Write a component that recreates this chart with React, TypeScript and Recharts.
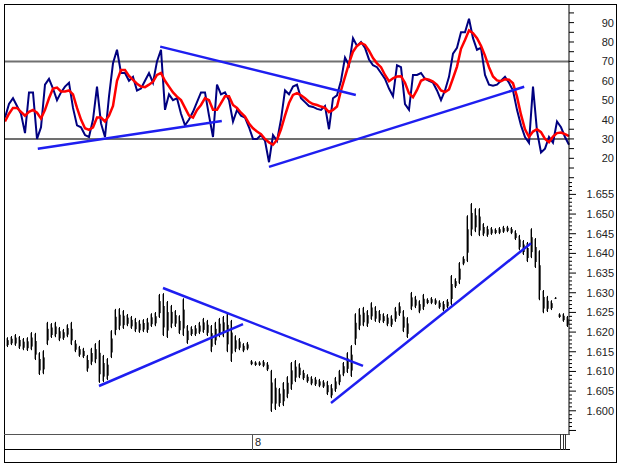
import { ComposedChart, Line, Bar, XAxis, YAxis, ReferenceLine } from 'recharts'

// oscillator (navy) and its smoothed signal (red), one value every bar step
const rsi = [
  41, 48, 51, 47, 43, 33, 54, 54, 30, 36,
  58, 61, 56, 50, 54, 57, 59, 46, 37, 36,
  32, 31, 40, 57, 38, 31, 52, 69, 76, 64,
  64, 60, 62, 55, 56, 60, 64, 59, 70, 76,
  45, 53, 50, 51, 43, 37, 40, 44, 49, 54,
  54, 42, 31, 58, 53, 54, 50, 39, 45, 42,
  41, 36, 30, 30, 32, 29, 18, 32, 29, 40,
  55, 53, 57, 58, 51, 49, 47, 46.5, 45.5, 45,
  47, 35, 51, 52.5, 60, 72, 68, 82, 78, 80,
  77, 71, 68, 67, 64, 61, 56, 52, 68, 67,
  48, 45, 63, 63, 64, 61, 60, 59, 55, 50,
  55, 62, 74, 77, 85, 85, 92, 82, 76, 77,
  63, 58, 57.5, 58, 60, 62, 59, 55, 45, 37,
  31, 28, 57, 34, 23, 25, 31, 28, 39, 36,
  31, 27,
]
const signal = [
  39, 43, 46, 46, 44, 42, 44, 45, 43.5, 40.5,
  45, 51, 56, 56.5, 54.5, 54.5, 55, 53, 46, 40,
  35.5, 34.7, 36, 41, 41, 39, 42, 47, 60, 65.5,
  65.5, 62.5, 60.5, 58.5, 57, 56.7, 58, 59.5, 63, 64,
  60, 57, 54, 51.8, 50, 46, 42, 41, 45, 47.5,
  51, 50, 45, 45, 48.5, 52, 52, 47.5, 46, 43.5,
  41.5, 38, 35.5, 33.8, 32.5, 30, 28.2, 27, 29.5, 35,
  42, 48.5, 52.7, 53.6, 52.5, 51, 49.2, 48, 47.5, 46.7,
  46, 43.8, 45, 46.7, 55, 62, 69, 75, 78, 79.5,
  78.5, 75.5, 71.7, 69, 67, 63, 59.8, 61.3, 62.2, 62.3,
  59, 53.5, 51.5, 55.3, 60, 61, 60.6, 59.6, 57.9, 55,
  54.2, 55.5, 61.3, 67.3, 76.5, 81, 86, 84.5, 82, 78,
  73, 67, 62.2, 60.2, 59.8, 60.8, 60.6, 58.7, 51.8, 42.5,
  35, 31, 33.8, 35, 33.5, 30, 28.3, 31.2, 33, 33.3,
  32.5, 31.5,
]

// price bars
const highs = [
  1.6187, 1.619, 1.6195, 1.619, 1.6185, 1.6187, 1.62, 1.6198, 1.6149, 1.6154,
  1.6226, 1.6223, 1.6226, 1.6213, 1.6208, 1.622, 1.6226, 1.618, 1.6165, 1.616,
  1.6142, 1.616, 1.6172, 1.618, 1.6142, 1.6134, 1.6205, 1.6259, 1.6261, 1.6256,
  1.6246, 1.6241, 1.6236, 1.6231, 1.6233, 1.6236, 1.6248, 1.6251, 1.6297, 1.6299,
  1.6279, 1.6269, 1.6256, 1.6243, 1.6286, 1.6218, 1.6215, 1.6218, 1.6226, 1.6236,
  1.6231, 1.6218, 1.6226, 1.6236, 1.6241, 1.6248, 1.6231, 1.6192, 1.6185, 1.6172,
  1.6175, 1.6129, 1.6126, 1.6126, 1.6129, 1.6124, 1.6104, 1.6083, 1.6058, 1.6073,
  1.6088, 1.6124, 1.6129, 1.6121, 1.6104, 1.6093, 1.6088, 1.6086, 1.6081, 1.6078,
  1.6076, 1.6068, 1.6086, 1.6104, 1.6124, 1.6149, 1.6167, 1.6248, 1.6261, 1.6264,
  1.6256, 1.6276, 1.6266, 1.6256, 1.6248, 1.6246, 1.6243, 1.6264, 1.6276, 1.6256,
  1.6238, 1.6302, 1.6292, 1.6281, 1.6297, 1.6286, 1.6289, 1.6286, 1.6281, 1.6279,
  1.6284, 1.6345, 1.6337, 1.6378, 1.6393, 1.6497, 1.6528, 1.6515, 1.6515, 1.6477,
  1.647, 1.6467, 1.6464, 1.6467, 1.647, 1.647, 1.6467, 1.6459, 1.6447, 1.6434,
  1.6429, 1.6464, 1.6439, 1.6408, 1.6307, 1.6292, 1.6281, 1.6289, 1.6248, 1.6248,
  1.6241,
]
const lows = [
  1.6162, 1.6167, 1.6165, 1.6157, 1.6154, 1.6152, 1.6154, 1.6129, 1.6091, 1.6093,
  1.6167, 1.6185, 1.6187, 1.6177, 1.618, 1.6187, 1.6167, 1.6149, 1.6137, 1.6134,
  1.6099, 1.6116, 1.6121, 1.6071, 1.6073, 1.6078, 1.6134, 1.6192, 1.6205, 1.6208,
  1.6215, 1.6208, 1.62, 1.6198, 1.62, 1.6198, 1.6213, 1.6215, 1.6236, 1.619,
  1.6185, 1.621, 1.6213, 1.6195, 1.619, 1.617, 1.619, 1.619, 1.6195, 1.6198,
  1.619, 1.6149, 1.6167, 1.6187, 1.6187, 1.6149, 1.6124, 1.6149, 1.6154, 1.6149,
  1.6154, 1.6116, 1.6114, 1.6114, 1.6111, 1.6101, 1.5997, 1.6002, 1.601, 1.6012,
  1.6032, 1.6053, 1.6073, 1.6083, 1.6078, 1.6071, 1.6065, 1.6063, 1.606, 1.6058,
  1.604, 1.6032, 1.6048, 1.6065, 1.6088, 1.6096, 1.6086, 1.6167, 1.6205, 1.6215,
  1.6213, 1.6231, 1.6226, 1.6223, 1.6223, 1.6215, 1.6213, 1.6226, 1.6241, 1.62,
  1.6185, 1.6256, 1.6261, 1.6248, 1.6256, 1.6271, 1.6271, 1.6269, 1.6259, 1.6253,
  1.6261, 1.6269, 1.6312, 1.6322, 1.637, 1.6378, 1.6444, 1.6454, 1.6444, 1.6444,
  1.6442, 1.6447, 1.6449, 1.6449, 1.6452, 1.6454, 1.6449, 1.6434, 1.6408, 1.6396,
  1.6378, 1.6388, 1.6363, 1.6281, 1.6248, 1.6251, 1.6256, 1.6284, 1.6236, 1.6226,
  1.6213,
]

// hand-drawn trend lines: [start, end] in (bar, value)
const rsiTrends = [
  [{ x: 8.2, y: 24.9 }, { x: 54.2, y: 39.3 }],
  [{ x: 38.8, y: 77.6 }, { x: 87.7, y: 52.7 }],
  [{ x: 66, y: 15.6 }, { x: 129.8, y: 56.9 }],
]
const priceTrends = [
  [{ x: 23, y: 1.6063 }, { x: 59, y: 1.622 }],
  [{ x: 39, y: 1.6312 }, { x: 89, y: 1.6114 }],
  [{ x: 81, y: 1.602 }, { x: 131, y: 1.6426 }],
]

const rsiLevels = [70, 30]
const rsiTicks = [10, 15, 20, 25, 30, 35, 40, 45, 50, 55, 60, 65, 70, 75, 80, 85, 90, 95]
const rsiLabels = [20, 30, 40, 50, 60, 70, 80, 90]
const priceTicks = Array.from({ length: 64 }, (_, k) => Math.round((1.595 + k * 0.001) * 1000) / 1000)
const dayLabel = '8'

const rsiData = rsi.map((v, i) => ({ i, rsi: v, signal: signal[i] }))
const priceData = highs.map((h, j) => ({ j, range: [lows[j], h] }))

const FONT = '"Liberation Sans", Arial, sans-serif'
const BLUE = '#1e1ef0'

function RsiTick({ x, y, payload }: any) {
  const v = payload.value
  return (
    <g>
      <line x1={x} y1={y} x2={x + 5} y2={y} stroke="#000" />
      {rsiLabels.includes(v) && (
        <text x={x + 45} y={y} dy={4} textAnchor="end" fontSize={11} fontFamily={FONT} fill="#222">{v}</text>
      )}
    </g>
  )
}

function PriceTick({ x, y, payload }: any) {
  const v = payload.value
  const major = Math.round(v * 1000) % 5 === 0
  return (
    <g>
      <line x1={x} y1={y} x2={x + (major ? 7 : 3)} y2={y} stroke="#000" />
      {major && v >= 1.6 && v <= 1.655 && (
        <text x={x + 45} y={y} dy={4} textAnchor="end" fontSize={11} fontFamily={FONT} fill="#222">{v.toFixed(3)}</text>
      )}
    </g>
  )
}

// bar drawn as a dark stem with grey shoulders, like the dense OHLC strokes
function PriceBar({ x, y, width, height }: any) {
  const cx = Math.round(x + width / 2)
  const h = Math.max(height, 1)
  return (
    <g>
      <rect x={cx - 1} y={y + 1} width={1} height={Math.max(h - 2, 1)} fill="#9a9a9a" />
      <rect x={cx} y={y} width={1} height={h} fill="#000" />
      <rect x={cx + 1} y={y + h * 0.3} width={1} height={Math.max(h * 0.5, 1)} fill="#555" />
    </g>
  )
}

export default function App() {
  return (
    <div style={{ position: 'absolute', left: 0, top: 0, width: 620, height: 466, background: '#fff', fontFamily: FONT }}>
      <div style={{ position: 'absolute', left: 4, top: 4, width: 613, height: 459, border: '1px solid #000', boxSizing: 'border-box' }} />

      <div style={{ position: 'absolute', left: 5, top: 4 }}>
        <ComposedChart width={612} height={177} data={rsiData} margin={{ top: 0, right: 0, bottom: 0, left: 0 }}>
          <XAxis type="number" dataKey="i" domain={[0, 141]} hide />
          <YAxis
            orientation="right"
            width={48}
            type="number"
            domain={[8.3, 99.6]}
            allowDataOverflow
            ticks={rsiTicks}
            interval={0}
            tickSize={0}
            tickMargin={0}
            tickLine={false}
            axisLine={{ stroke: '#000' }}
            tick={(p: any) => <RsiTick {...p} />}
          />
          {rsiLevels.map((lv) => (
            <ReferenceLine key={lv} y={lv} stroke="#707070" strokeWidth={2} />
          ))}
          <Line dataKey="rsi" stroke="#000080" strokeWidth={2} dot={false} isAnimationActive={false} />
          <Line dataKey="signal" stroke="#ff0000" strokeWidth={2.5} dot={false} isAnimationActive={false} />
          {rsiTrends.map((seg, k) => (
            <ReferenceLine key={k} segment={seg} stroke={BLUE} strokeWidth={2.5} />
          ))}
        </ComposedChart>
      </div>

      <div style={{ position: 'absolute', left: 5, top: 181 }}>
        <ComposedChart width={612} height={253} data={priceData} margin={{ top: 0, right: 0, bottom: 0, left: 0 }}>
          <XAxis type="category" dataKey="j" hide />
          <YAxis
            orientation="right"
            width={48}
            type="number"
            domain={[1.5941, 1.6584]}
            allowDataOverflow
            ticks={priceTicks}
            interval={0}
            tickSize={0}
            tickMargin={0}
            tickLine={false}
            axisLine={{ stroke: '#000' }}
            tick={(p: any) => <PriceTick {...p} />}
          />
          <Bar dataKey="range" barSize={4} shape={(p: any) => <PriceBar {...p} />} isAnimationActive={false} />
          {priceTrends.map((seg, k) => (
            <ReferenceLine key={k} segment={seg} stroke={BLUE} strokeWidth={2.5} />
          ))}
        </ComposedChart>
      </div>

      <div style={{ position: 'absolute', left: 4, top: 434, width: 566, height: 16, borderTop: '1px solid #555', borderBottom: '1px solid #000', boxSizing: 'border-box' }} />
      <div style={{ position: 'absolute', left: 252, top: 434, width: 1, height: 16, background: '#555' }} />
      <div style={{ position: 'absolute', left: 255, top: 435, fontSize: 11, lineHeight: '14px', color: '#222' }}>{dayLabel}</div>
      {[560, 563, 565].map((lx) => (
        <div key={lx} style={{ position: 'absolute', left: lx, top: 434, width: 1, height: 16, background: '#333' }} />
      ))}
    </div>
  )
}
